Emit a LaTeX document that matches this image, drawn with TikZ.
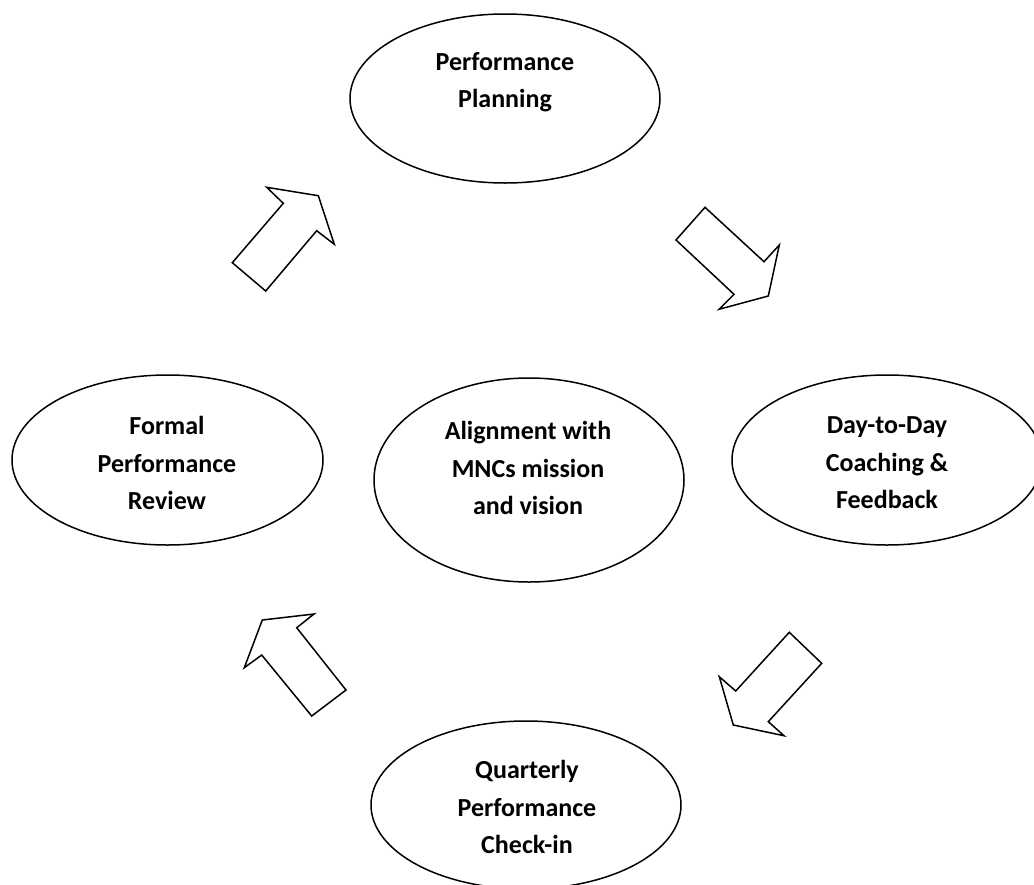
\documentclass[tikz,border=0pt]{standalone}
\usepackage{fontspec}
\setmainfont{Carlito}
\usetikzlibrary{shapes.geometric}
\tikzset{
  oval/.style={ellipse, draw=black, line width=1.5pt, inner sep=0pt},
  lbl/.style={align=center, font=\fontsize{26}{37.5}\selectfont\bfseries, inner sep=0pt},
  blockarrow/.style={draw=black, line width=1.5pt, fill=white, line join=miter}
}
\begin{document}
\begin{tikzpicture}[x=1pt,y=-1pt]
\useasboundingbox (0,0) rectangle (1034,884);
% ellipses
\node[oval, minimum width=310pt, minimum height=169pt] (plan) at (505,98.5) {};
\node[oval, minimum width=311pt, minimum height=170pt] (review) at (167.5,460) {};
\node[oval, minimum width=310pt, minimum height=204pt] (align) at (529,480) {};
\node[oval, minimum width=310pt, minimum height=170pt] (coach) at (887,460) {};
\node[oval, minimum width=310pt, minimum height=168pt] (check) at (526,805) {};
% labels
\node[lbl] (planT) at (505,82) {Performance\\Planning};
\node[lbl] (reviewT) at (167,463) {Formal\\Performance\\Review};
\node[lbl] (alignT) at (528,468) {Alignment with\\MNCs mission\\and vision};
\node[lbl] (coachT) at (887,463) {Day-to-Day\\Coaching \&\\Feedback};
\node[lbl] (checkT) at (527,807) {Quarterly\\Performance\\Check-in};
% block arrows
\draw[blockarrow] (232.3,262.7) -- (265.7,291) -- (316.7,230.7) -- (334.3,244.3) -- (318.3,195.7) -- (266.7,187.3) -- (283.3,203.3) -- cycle;
\draw[blockarrow] (705,207.3) -- (676,240) -- (734,294.3) -- (719,309.3) -- (768.3,296) -- (779.3,245) -- (764,261.7) -- cycle;
\draw[blockarrow] (789.3,632.3) -- (821.7,663.3) -- (768.3,721.7) -- (784,735.7) -- (733.3,725) -- (719.3,676.7) -- (735.7,691) -- cycle;
\draw[blockarrow] (262.3,620) -- (314,614) -- (296.7,627.7) -- (346,690) -- (311.7,716) -- (261.7,655) -- (244.3,667.7) -- cycle;
\end{tikzpicture}
\end{document}
